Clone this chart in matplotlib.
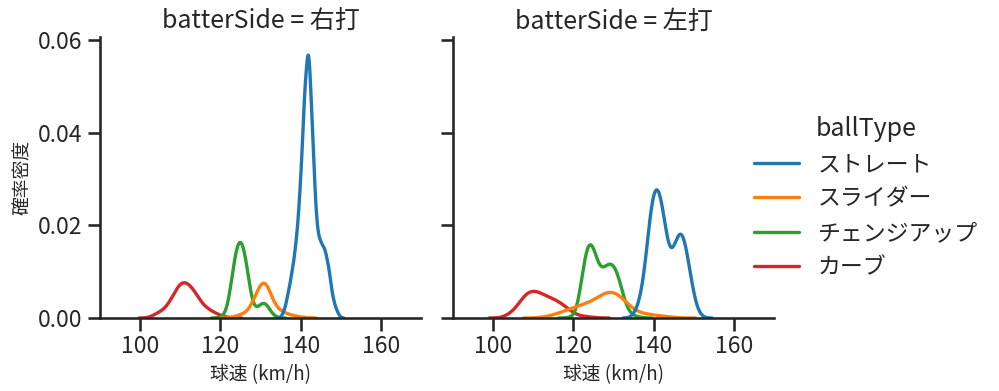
import numpy as np
import pandas as pd
import matplotlib
matplotlib.use("Agg")
import matplotlib.pyplot as plt
import seaborn as sns

ball_types = ["ストレート", "スライダー", "チェンジアップ", "カーブ"]
sides = ["右打", "左打"]

# 右打: 球速 (km/h) ごとの投球数
r_straight_speed = list(range(136, 150))
r_straight_count = [8, 29, 53, 85, 144, 249, 311, 201, 97, 82, 77, 57, 22, 8]
r_slider_speed = list(range(123, 142))
r_slider_count = [1, 2, 4, 5, 8, 17, 27, 38, 43, 35, 19, 12, 8, 6, 4, 3, 2, 1, 1]
r_change_speed = list(range(120, 135))
r_change_count = [1, 3, 15, 49, 78, 89, 75, 45, 14, 10, 15, 18, 12, 4, 1]
r_curve_speed = list(range(103, 123))
r_curve_count = [2, 5, 7, 9, 15, 22, 32, 39, 41, 38, 33, 27, 18, 13, 10, 7, 5, 3, 1, 1]

# 左打
l_straight_speed = list(range(135, 153))
l_straight_count = [4, 11, 29, 59, 110, 142, 147, 130, 96, 69, 74, 92, 98, 81, 53, 25, 8, 2]
l_slider_speed = list(range(113, 146))
l_slider_count = [2, 2, 3, 5, 6, 8, 10, 11, 13, 14, 16, 17, 19, 21, 26, 29, 31, 30,
                  27, 25, 18, 12, 8, 6, 5, 5, 4, 3, 3, 2, 2, 1, 1]
l_change_speed = list(range(119, 138))
l_change_count = [1, 1, 10, 39, 73, 87, 80, 60, 52, 56, 61, 59, 50, 33, 14, 6, 3, 1, 1]
l_curve_speed = list(range(103, 126))
l_curve_count = [2, 4, 8, 12, 20, 27, 30, 30, 30, 27, 24, 23, 21, 19, 16, 13, 9, 5, 3, 2, 2, 1, 1]

groups = [
    ("右打", "ストレート", r_straight_speed, r_straight_count),
    ("右打", "スライダー", r_slider_speed, r_slider_count),
    ("右打", "チェンジアップ", r_change_speed, r_change_count),
    ("右打", "カーブ", r_curve_speed, r_curve_count),
    ("左打", "ストレート", l_straight_speed, l_straight_count),
    ("左打", "スライダー", l_slider_speed, l_slider_count),
    ("左打", "チェンジアップ", l_change_speed, l_change_count),
    ("左打", "カーブ", l_curve_speed, l_curve_count),
]

frames = []
for side, bt, sp, ct in groups:
    frames.append(pd.DataFrame({"batterSide": side, "ballType": bt,
                                "speed": np.repeat(sp, ct)}))
df = pd.concat(frames, ignore_index=True)

sns.set_theme(context="talk", style="ticks", palette="tab10")
plt.rcParams['font.family'] = ['Noto Sans CJK JP', 'DejaVu Sans']

g = sns.displot(df, x="speed", hue="ballType", col="batterSide", kind="kde",
                hue_order=ball_types, col_order=sides, height=3.5, aspect=1.0,
                palette="tab10", linewidth=2.4)
g.set(xlim=(90, 170), xticks=[100, 120, 140, 160])
g.set_xlabels("球速 (km/h)", fontsize=13.5)
g.set_ylabels("確率密度", fontsize=13.5)

fig = g.figure
fig.set_size_inches(9.99, 3.91)
W, H = 999, 391
ax1, ax2 = g.axes[0]
ax1.set_position([100 / W, (H - 318) / H, 321 / W, 281 / H])
ax2.set_position([453 / W, (H - 318) / H, 321 / W, 281 / H])
ax1.set_ylim(0, 0.0606)

sns.move_legend(g, "center left", bbox_to_anchor=(733 / W, 0.495), frameon=False)

fig.savefig("out.png", dpi=100)
